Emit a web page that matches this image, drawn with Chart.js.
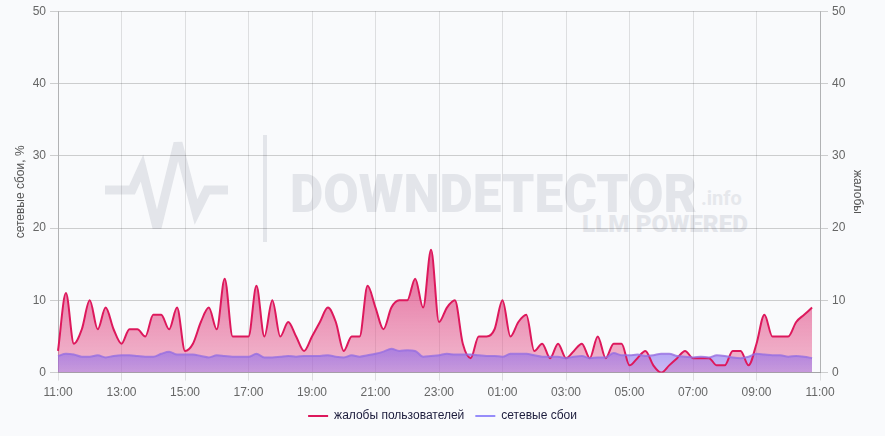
<!DOCTYPE html>
<html>
<head>
<meta charset="utf-8">
<script src="https://cdn.jsdelivr.net/npm/chart.js@4.4.1/dist/chart.umd.min.js"></script>
<style>
html,body{margin:0;padding:0;background:#f9fafc;}
#wrap{position:relative;width:885px;height:436px;overflow:hidden;}
#wm{position:absolute;left:0;top:0;}
#c{position:absolute;left:0;top:0;}
</style>
</head>
<body>
<div id="wrap">
<svg id="wm" width="885" height="436" xmlns="http://www.w3.org/2000/svg">
  <polyline points="105,190 132,190 142,168 157,228 178,143 196,212 207,190 228,190" fill="none" stroke="#e3e5ea" stroke-width="9" stroke-linejoin="miter"/>
  <line x1="265" y1="135" x2="265" y2="242" stroke="#e3e5ea" stroke-width="4"/>
  <text x="290" y="212" font-family="Roboto, 'Open Sans', sans-serif" font-weight="900" font-size="54" fill="#e3e5ea" textLength="407" lengthAdjust="spacingAndGlyphs">DOWNDETECTOR</text>
  <text x="701" y="205" font-family="Roboto, sans-serif" font-weight="700" font-size="20" fill="#e6e8ec">.info</text>
  <text x="582" y="232" font-family="Roboto, sans-serif" font-weight="900" font-size="24" fill="#e3e5ea" textLength="166" lengthAdjust="spacingAndGlyphs">LLM POWERED</text>
</svg>
<canvas id="c" width="885" height="436"></canvas>
</div>
<script>
const timeLabels = [
 '11:00','11:15','11:30','11:45','12:00','12:15','12:30','12:45',
 '13:00','13:15','13:30','13:45','14:00','14:15','14:30','14:45',
 '15:00','15:15','15:30','15:45','16:00','16:15','16:30','16:45',
 '17:00','17:15','17:30','17:45','18:00','18:15','18:30','18:45',
 '19:00','19:15','19:30','19:45','20:00','20:15','20:30','20:45',
 '21:00','21:15','21:30','21:45','22:00','22:15','22:30','22:45',
 '23:00','23:15','23:30','23:45','00:00','00:15','00:30','00:45',
 '01:00','01:15','01:30','01:45','02:00','02:15','02:30','02:45',
 '03:00','03:15','03:30','03:45','04:00','04:15','04:30','04:45',
 '05:00','05:15','05:30','05:45','06:00','06:15','06:30','06:45',
 '07:00','07:15','07:30','07:45','08:00','08:15','08:30','08:45',
 '09:00','09:15','09:30','09:45','10:00','10:15','10:30','10:45',
 '11:00'
];
const complaints = [
 3,11,4,6,10,6,9,6,
 4,6,6,5,8,8,6,9,
 3,4,7,9,6,13,5,5,
 5,12,5,10,5,7,5,3,
 5,7,9,7,3,5,5,12,
 9,6,9,10,10,13,9,17,
 7,9,10,4,2,5,5,6,
 10,5,7,8,3,4,2,4,
 2,3,4,2,5,2,4,4,
 1,2,3,1,0,1,2,3,
 2,2,2,1,1,3,3,1,
 4,8,5,5,5,7,8,9
];
const outages = [
 2.3,2.6,2.5,2.2,2.2,2.4,2.1,2.3,
 2.4,2.4,2.3,2.2,2.2,2.6,2.9,2.5,
 2.5,2.5,2.3,2.1,2.4,2.3,2.2,2.2,
 2.2,2.6,2.1,2.1,2.2,2.3,2.2,2.3,
 2.3,2.3,2.4,2.2,2.1,2.4,2.2,2.4,
 2.6,2.9,3.3,3.0,3.1,3.0,2.2,2.3,
 2.4,2.6,2.5,2.5,2.5,2.4,2.3,2.3,
 2.2,2.6,2.6,2.6,2.4,2.2,2.2,2.2,
 2.0,2.2,2.3,2.0,2.1,2.1,2.7,2.4,
 2.4,2.5,2.3,2.4,2.6,2.6,2.3,2.2,
 2.1,2.2,2.1,2.4,2.3,2.1,2.0,2.2,
 2.6,2.5,2.4,2.4,2.2,2.3,2.2,2.0
];
const yTicks = [0,10,20,30,40,50];
const seriesNames = ['жалобы пользователей','сетевые сбои'];
const axisTitles = ['сетевые сбои, %','жалобы'];

Chart.defaults.font.family = "Arial, 'Liberation Sans', sans-serif";
Chart.defaults.font.size = 12;

function pinkFill(ctx){
  const chart = ctx.chart; const ca = chart.chartArea;
  if(!ca) return 'rgba(230,100,150,0.5)';
  const y = chart.scales.yR;
  const g = chart.ctx.createLinearGradient(0, y.getPixelForValue(18), 0, y.getPixelForValue(0));
  g.addColorStop(0,'rgba(218,40,110,0.75)');
  g.addColorStop(1,'rgba(228,80,135,0.38)');
  return g;
}
function violetFill(ctx){
  const chart = ctx.chart; const ca = chart.chartArea;
  if(!ca) return 'rgba(140,110,240,0.5)';
  const y = chart.scales.yL;
  const g = chart.ctx.createLinearGradient(0, y.getPixelForValue(3.5), 0, y.getPixelForValue(0));
  g.addColorStop(0,'rgba(125,95,240,0.6)');
  g.addColorStop(1,'rgba(150,115,235,0.45)');
  return g;
}

new Chart(document.getElementById('c'), {
  type: 'line',
  data: {
    labels: timeLabels,
    datasets: [
      {
        label: seriesNames[0],
        data: complaints,
        yAxisID: 'yR',
        borderColor: 'rgb(221,24,92)',
        backgroundColor: pinkFill,
        borderWidth: 2,
        fill: 'origin',
        pointRadius: 0,
        cubicInterpolationMode: 'monotone',
        order: 1
      },
      {
        label: seriesNames[1],
        data: outages,
        yAxisID: 'yL',
        borderColor: 'rgba(150,110,225,0.8)',
        backgroundColor: violetFill,
        borderWidth: 2,
        fill: 'origin',
        pointRadius: 0,
        cubicInterpolationMode: 'monotone',
        order: 0
      }
    ]
  },
  options: {
    responsive: false,
    animation: false,
    layout: { padding: { top: 5, bottom: 4, left: 0, right: 0 } },
    plugins: {
      filler: { drawTime: 'beforeDatasetsDraw' },
      tooltip: { enabled: false },
      legend: {
        position: 'bottom',
        labels: {
          color: '#1c1c3c',
          boxWidth: 20,
          boxHeight: 2,
          padding: 11,
          font: { size: 12 },
          generateLabels(chart){
            const cols = ['rgb(221,24,92)','rgb(150,140,250)'];
            return chart.data.datasets.map((d,i)=>({
              text: d.label, fillStyle: cols[i], strokeStyle: cols[i], lineWidth: 0,
              hidden: false, datasetIndex: i, fontColor: '#1c1c3c'
            }));
          }
        }
      }
    },
    scales: {
      x: {
        type: 'category',
        offset: false,
        afterFit(s){ s.height = s.height - 6; },
        grid: { color: 'rgba(0,0,0,0.11)', tickLength: 8, drawTicks: true },
        border: { color: 'rgba(0,0,0,0.2)' },
        ticks: {
          autoSkip: false, maxRotation: 0, color: '#666', padding: 5,
          callback(val, idx){ return idx % 8 === 0 ? this.getLabelForValue(val) : null; }
        }
      },
      yL: {
        position: 'left', min: 0, max: 50,
        afterBuildTicks(s){ s.ticks = yTicks.map(v=>({value:v})); },
        afterFit(s){ s.width = 58; },
        grid: { color: 'rgba(0,0,0,0.18)', tickLength: 8 },
        border: { color: 'rgba(0,0,0,0.2)' },
        ticks: { color: '#666', padding: 4 },
        title: { display: true, text: axisTitles[0], color: '#555', padding: { top: 13, bottom: 0 }, font: { size: 12 } }
      },
      yR: {
        position: 'right', min: 0, max: 50,
        afterBuildTicks(s){ s.ticks = yTicks.map(v=>({value:v})); },
        afterFit(s){ s.width = 65; },
        grid: { drawOnChartArea: false, color: 'rgba(0,0,0,0.18)', tickLength: 8 },
        border: { color: 'rgba(0,0,0,0.2)' },
        ticks: { color: '#666', padding: 4 },
        title: { display: true, text: axisTitles[1], color: '#555', padding: { top: 20, bottom: 0 }, font: { size: 12 } }
      }
    }
  }
});
</script>
</body>
</html>
